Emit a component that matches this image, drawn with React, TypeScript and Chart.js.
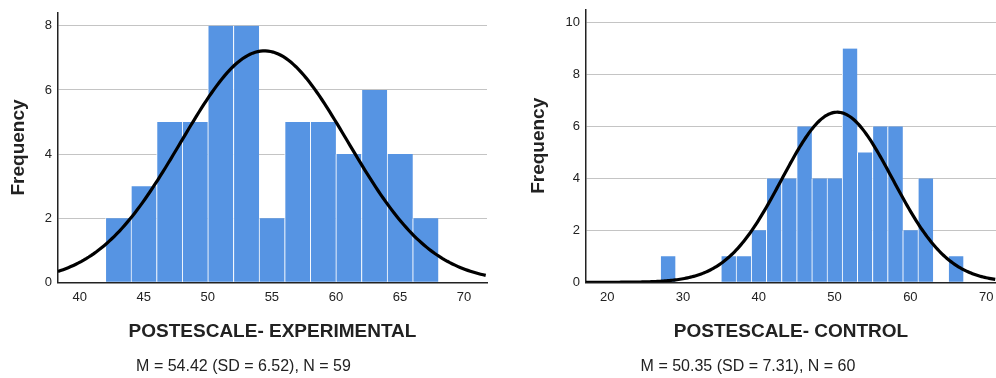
import React, { useEffect, useRef } from 'react';
import { Chart, registerables } from 'chart.js';

Chart.register(...registerables);

// ---- Data ----
const BIN_WIDTH = 2;

// Experimental group histogram (bin start values and frequencies)
const expBinStarts = [42, 44, 46, 48, 50, 52, 54, 56, 58, 60, 62, 64, 66];
const expCounts = [2, 3, 5, 5, 8, 8, 2, 5, 5, 4, 6, 4, 2];
const expMean = 54.42;
const expSD = 6.52;
const expN = 59;
const expTitle = 'POSTESCALE- EXPERIMENTAL';
const expStats = 'M = 54.42 (SD = 6.52), N = 59';

// Control group histogram
const ctrlBinStarts = [27, 35, 37, 39, 41, 43, 45, 47, 49, 51, 53, 55, 57, 59, 61, 63, 65];
const ctrlCounts = [1, 1, 1, 2, 4, 4, 6, 4, 4, 9, 5, 6, 6, 2, 4, 0, 1];
const ctrlMean = 50.35;
const ctrlSD = 7.31;
const ctrlN = 60;
const ctrlTitle = 'POSTESCALE- CONTROL';
const ctrlStats = 'M = 50.35 (SD = 7.31), N = 60';

const yAxisTitle = 'Frequency';

// ---- Styles ----
const FONT = "'Liberation Sans', Arial, Helvetica, sans-serif";
const BAR_COLOR = '#5694e3';
const GRID_COLOR = '#c4c4c4';
const AXIS_COLOR = '#222222';
const TEXT_COLOR = '#222222';

type HistProps = {
  binStarts: number[];
  counts: number[];
  mean: number;
  sd: number;
  n: number;
  title: string;
  stats: string;
  xMin: number;
  xMax: number;
  xStep: number;
  yMax: number;
  yAxisWidth: number;
  yTitlePad: number;
  padRight: number;
  padTop: number;
  left: number;
};

function Histogram(p: HistProps) {
  const ref = useRef<HTMLCanvasElement>(null);

  useEffect(() => {
    if (!ref.current) return;
    const bars = p.binStarts.map((s, i) => ({ x: s + BIN_WIDTH / 2, y: p.counts[i] }));
    // fitted normal curve from the stated M, SD and N
    const curve: { x: number; y: number }[] = [];
    const k = (p.n * BIN_WIDTH) / (p.sd * Math.sqrt(2 * Math.PI));
    for (let x = p.xMin; x <= p.xMax + 1e-9; x += 0.2) {
      const z = (x - p.mean) / p.sd;
      curve.push({ x, y: k * Math.exp(-0.5 * z * z) });
    }

    const chart = new Chart(ref.current, {
      type: 'bar',
      data: {
        datasets: [
          {
            type: 'line',
            data: curve,
            borderColor: '#000000',
            borderWidth: 3.2,
            pointRadius: 0,
            tension: 0,
            fill: false,
            order: 0,
          } as any,
          {
            type: 'bar',
            data: bars,
            backgroundColor: BAR_COLOR,
            borderColor: '#ffffff',
            borderWidth: { left: 1, right: 0, top: 0, bottom: 0 },
            borderSkipped: false,
            barPercentage: 1,
            categoryPercentage: 1,
            order: 1,
          } as any,
        ],
      },
      options: {
        animation: false,
        responsive: false,
        events: [],
        layout: { padding: { left: 0, right: p.padRight, top: p.padTop, bottom: 2 } },
        plugins: {
          legend: { display: false },
          tooltip: { enabled: false },
          subtitle: {
            display: true,
            position: 'bottom',
            text: p.stats,
            color: TEXT_COLOR,
            font: { family: FONT, size: 16, weight: 'normal' },
            padding: 0,
          },
        },
        scales: {
          x: {
            type: 'linear',
            min: p.xMin,
            max: p.xMax,
            offset: false,
            afterBuildTicks: (s: any) => {
              s.ticks = s.ticks.filter(
                (t: any) => Math.abs(t.value / p.xStep - Math.round(t.value / p.xStep)) < 1e-6
              );
            },
            ticks: {
              stepSize: p.xStep,
              includeBounds: false,
              padding: 7,
              color: TEXT_COLOR,
              font: { family: FONT, size: 13 },
              maxRotation: 0,
              autoSkip: false,
            },
            grid: { display: false, drawTicks: false },
            border: { display: true, color: AXIS_COLOR, width: 1.5 },
            title: {
              display: true,
              text: p.title,
              color: TEXT_COLOR,
              font: { family: FONT, size: 19, weight: 'bold' },
              padding: { top: 0, bottom: 14 },
            },
            afterFit: (s: any) => {
              s.height = 74.5;
              s.paddingLeft = 0;
              s.paddingRight = 0;
            },
          } as any,
          y: {
            type: 'linear',
            min: 0,
            max: p.yMax,
            afterBuildTicks: (s: any) => {
              s.ticks = s.ticks.filter((t: any) => Math.abs(t.value / 2 - Math.round(t.value / 2)) < 1e-6);
            },
            ticks: {
              stepSize: 2,
              includeBounds: false,
              padding: 6,
              color: TEXT_COLOR,
              font: { family: FONT, size: 13 },
            },
            grid: { color: GRID_COLOR, lineWidth: 1, drawTicks: false },
            border: { display: true, color: AXIS_COLOR, width: 1.5 },
            title: {
              display: true,
              text: yAxisTitle,
              color: TEXT_COLOR,
              font: { family: FONT, size: 19, weight: 'bold' },
              padding: { top: p.yTitlePad, bottom: 0 },
            },
            afterFit: (s: any) => {
              s.width = p.yAxisWidth;
              s.paddingTop = 0;
              s.paddingBottom = 0;
            },
          } as any,
        },
      },
    });
    return () => chart.destroy();
  }, []);

  return (
    <canvas
      ref={ref}
      width={496}
      height={378}
      style={{ position: 'absolute', left: p.left, top: 0, width: 496, height: 378 }}
    />
  );
}

export default function App() {
  return (
    <div style={{ position: 'fixed', left: 0, top: 0, width: 996, height: 378, background: '#ffffff', overflow: 'hidden' }}>
      <Histogram
        binStarts={expBinStarts}
        counts={expCounts}
        mean={expMean}
        sd={expSD}
        n={expN}
        title={expTitle}
        stats={expStats}
        xMin={38.3}
        xMax={71.8}
        xStep={5}
        yMax={8.41}
        yAxisWidth={58}
        yTitlePad={7.8}
        padRight={9}
        padTop={12.7}
        left={0}
      />
      <Histogram
        binStarts={ctrlBinStarts}
        counts={ctrlCounts}
        mean={ctrlMean}
        sd={ctrlSD}
        n={ctrlN}
        title={ctrlTitle}
        stats={ctrlStats}
        xMin={17.2}
        xMax={71.3}
        xStep={10}
        yMax={10.51}
        yAxisWidth={86}
        yTitlePad={27.8}
        padRight={0}
        padTop={9.3}
        left={500}
      />
    </div>
  );
}
